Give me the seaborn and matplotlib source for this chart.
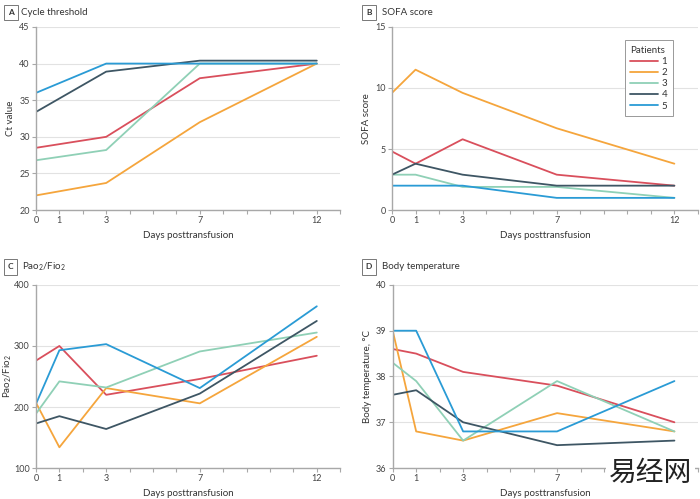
import pandas as pd
import matplotlib.pyplot as plt
import seaborn as sns

# days on which each measure was taken
days_ct = [0, 3, 7, 12]
days = [0, 1, 3, 7, 12]
patients = ['1', '2', '3', '4', '5']

# A - cycle threshold
ct = {'1': [28.5, 30.0, 38.0, 40.0],
      '2': [22.0, 23.7, 32.0, 40.0],
      '3': [26.8, 28.2, 40.0, 40.0],
      '4': [33.4, 38.9, 40.4, 40.4],
      '5': [36.0, 40.0, 40.0, 40.0]}

# B - SOFA score
sofa = {'1': [4.8, 3.8, 5.8, 2.9, 2.0],
        '2': [9.6, 11.5, 9.6, 6.7, 3.8],
        '3': [2.9, 2.9, 1.9, 1.9, 1.0],
        '4': [2.9, 3.8, 2.9, 2.0, 2.0],
        '5': [2.0, 2.0, 2.0, 1.0, 1.0]}

# C - PaO2/FiO2
pf = {'1': [276, 300, 220, 246, 284],
      '2': [207, 134, 231, 206, 315],
      '3': [189, 242, 232, 291, 322],
      '4': [173, 185, 164, 222, 341],
      '5': [205, 293, 303, 231, 365]}

# D - body temperature
temp = {'1': [38.6, 38.5, 38.1, 37.8, 37.0],
        '2': [39.0, 36.8, 36.6, 37.2, 36.8],
        '3': [38.3, 37.9, 36.6, 37.9, 36.8],
        '4': [37.6, 37.7, 37.0, 36.5, 36.6],
        '5': [39.0, 39.0, 36.8, 36.8, 37.9]}

colors = ['#d94f5c', '#f5a53c', '#8fd0b6', '#3e5664', '#2a9bd5']


def to_long(values, x):
    rows = []
    for p in patients:
        for d, v in zip(x, values[p]):
            rows.append({'day': d, 'value': v, 'patient': p})
    return pd.DataFrame(rows)


sns.set_theme(style='ticks')
plt.rcParams['font.family'] = ['Lato', 'Noto Sans CJK SC']
plt.rcParams['mathtext.fontset'] = 'dejavusans'

fig = plt.figure(figsize=(7, 4.99), dpi=100)

pf_label = r'P$\mathregular{ao_2}$/F$\mathregular{io_2}$'

panels = [
    # data, x, rect, ylim, yticks, ylabel, letter, title, title pos, ylabel pad
    (ct, days_ct, [0.0514, 0.579, 0.4346, 0.367], (20, 45), range(20, 46, 5),
     'Ct value', 'A', 'Cycle threshold', (0.016, 0.0296, 0.975), 3),
    (sofa, days, [0.560, 0.579, 0.437, 0.367], (0, 15), range(0, 16, 5),
     'SOFA score', 'B', 'SOFA score', (0.527, 0.545, 0.975), 3),
    (pf, days, [0.0514, 0.062, 0.4346, 0.367], (100, 400), range(100, 401, 100),
     pf_label, 'C', pf_label, (0.015, 0.0314, 0.465), 0),
    (temp, days, [0.561, 0.062, 0.436, 0.367], (36, 40), range(36, 41),
     'Body temperature, °C', 'D', 'Body temperature', (0.527, 0.545, 0.465), 3),
]

for data, x, rect, ylim, yticks, ylabel, letter, title, tpos, ypad in panels:
    ax = fig.add_axes(rect)
    df = to_long(data, x)
    sns.lineplot(data=df, x='day', y='value', hue='patient', palette=colors,
                 linewidth=1.3, ax=ax, legend=(letter == 'B'))
    ax.set_xlim(0, 13)
    ax.set_ylim(*ylim)
    ax.set_yticks(list(yticks))
    ax.set_xticks(range(0, 14))
    ax.set_xticklabels([str(i) if i in (0, 1, 3, 7, 12) else '' for i in range(0, 14)])
    ax.yaxis.grid(True, color='#e2e2e2', lw=0.8)
    ax.set_axisbelow(True)
    for s in ['top', 'right']:
        ax.spines[s].set_visible(False)
    for s in ['left', 'bottom']:
        ax.spines[s].set_color('#a8a8a8')
        ax.spines[s].set_linewidth(1.0)
    ax.tick_params(length=3, width=0.8, color='#a8a8a8', labelsize=6.5,
                   labelcolor='#444444', pad=1.5)
    ax.set_xlabel('Days posttransfusion', fontsize=7, color='#333333', labelpad=4)
    ax.set_ylabel(ylabel, fontsize=7, color='#333333', labelpad=ypad)

    fig.text(tpos[0], tpos[2], letter, fontsize=6, fontweight='bold', color='#333333',
             ha='center', va='center',
             bbox=dict(boxstyle='square,pad=0.5', fc='white', ec='#777777', lw=0.7))
    fig.text(tpos[1], tpos[2], title, fontsize=7, color='#333333', ha='left', va='center')

    if letter == 'B':
        leg = ax.legend(title='Patients', loc='upper right', bbox_to_anchor=(0.935, 0.955),
                        fontsize=7, title_fontsize=7, handlelength=2.8,
                        fancybox=False, edgecolor='#999999', framealpha=1,
                        borderpad=0.6, labelspacing=0.22, handletextpad=0.4,
                        alignment='left')
        leg.get_frame().set_linewidth(0.7)
        for t in leg.get_texts():
            t.set_color('#333333')
        leg.get_title().set_color('#333333')

# watermark
fig.text(0.989, 0.022, '易经网', family=['Noto Sans CJK SC'], fontsize=20, color='#222222',
         ha='right', va='bottom',
         bbox=dict(boxstyle='square,pad=0.1', fc='white', ec='none'))

fig.savefig('out.png', dpi=100)
